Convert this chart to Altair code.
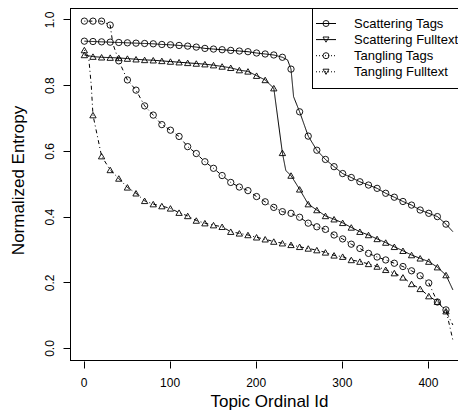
import altair as alt
import pandas as pd

SERIES = ["Scattering Tags", "Scattering Fulltext", "Tangling Tags", "Tangling Fulltext"]

# marker positions (every 10th topic)
MARK_X = [1, 11, 21, 31, 41, 51, 61, 71, 81, 91, 101, 111, 121, 131, 141, 151, 161,
          171, 181, 191, 201, 211, 221, 231, 241, 251, 261, 271, 281, 291, 301, 311,
          321, 331, 341, 351, 361, 371, 381, 391, 401, 411, 421]

ST_Y = [0.934, 0.933, 0.932, 0.931, 0.930, 0.929, 0.928, 0.927, 0.926, 0.924, 0.923,
        0.921, 0.919, 0.916, 0.912, 0.910, 0.908, 0.906, 0.904, 0.902, 0.898, 0.895,
        0.892, 0.885, 0.849, 0.719, 0.645, 0.602, 0.574, 0.552, 0.531, 0.519, 0.506,
        0.496, 0.486, 0.471, 0.459, 0.446, 0.435, 0.420, 0.410, 0.400, 0.377]
SF_Y = [0.892, 0.887, 0.885, 0.884, 0.883, 0.881, 0.879, 0.877, 0.876, 0.874, 0.872,
        0.870, 0.868, 0.866, 0.864, 0.861, 0.857, 0.853, 0.846, 0.842, 0.829, 0.816,
        0.791, 0.594, 0.525, 0.483, 0.438, 0.420, 0.402, 0.392, 0.381, 0.367, 0.354,
        0.344, 0.332, 0.321, 0.308, 0.296, 0.283, 0.273, 0.263, 0.246, 0.222]
TT_Y = [0.995, 0.995, 0.995, 0.983, 0.874, 0.816, 0.785, 0.737, 0.709, 0.680, 0.663,
        0.644, 0.613, 0.592, 0.567, 0.547, 0.525, 0.504, 0.490, 0.479, 0.461, 0.445,
        0.428, 0.415, 0.410, 0.398, 0.380, 0.369, 0.361, 0.344, 0.332, 0.316, 0.303,
        0.288, 0.277, 0.268, 0.258, 0.248, 0.235, 0.220, 0.198, 0.140, 0.116]
TF_Y = [0.907, 0.709, 0.584, 0.542, 0.516, 0.489, 0.471, 0.448, 0.438, 0.432, 0.425,
        0.412, 0.402, 0.388, 0.380, 0.374, 0.369, 0.354, 0.349, 0.344, 0.337, 0.331,
        0.324, 0.319, 0.314, 0.308, 0.303, 0.298, 0.291, 0.282, 0.278, 0.268, 0.263,
        0.256, 0.248, 0.238, 0.228, 0.215, 0.195, 0.180, 0.158, 0.141, 0.112]

# extra line vertices between markers (steep parts, line ends)
ST_EX_X = [237, 244, 429]
ST_EX_Y = [0.877, 0.765, 0.354]
SF_EX_X = [235, 429]
SF_EX_Y = [0.540, 0.177]
TT_EX_X = [34, 38, 429]
TT_EX_Y = [0.927, 0.897, 0.024]
TF_EX_X = [6, 9, 429]
TF_EX_Y = [0.885, 0.800, 0.070]

X_TICKS = [0, 100, 200, 300, 400]
Y_TICKS = [0.0, 0.2, 0.4, 0.6, 0.8, 1.0]

marks = []
lines = []
for name, ys, exx, exy in [
    (SERIES[0], ST_Y, ST_EX_X, ST_EX_Y),
    (SERIES[1], SF_Y, SF_EX_X, SF_EX_Y),
    (SERIES[2], TT_Y, TT_EX_X, TT_EX_Y),
    (SERIES[3], TF_Y, TF_EX_X, TF_EX_Y),
]:
    for x, y in zip(MARK_X, ys):
        marks.append({"series": name, "x": x, "y": y})
        lines.append({"series": name, "x": x, "y": y})
    for x, y in zip(exx, exy):
        lines.append({"series": name, "x": x, "y": y})

mark_df = pd.DataFrame(marks)
line_df = pd.DataFrame(lines).sort_values(["series", "x"])

FONT = "Liberation Sans"
W, H = 388, 353

xscale = alt.Scale(domain=[-15.68, 434.95], nice=False, zero=False)
yscale = alt.Scale(domain=[-0.0396, 1.035], nice=False, zero=False)

xaxis = alt.Axis(values=X_TICKS, title="Topic Ordinal Id", tickSize=7, labelFontSize=12,
                 labelBaseline="alphabetic", labelPadding=18.5, labelFlush=False,
                 domain=False,
                 titleFontSize=17, titleBaseline="alphabetic", titleY=45,
                 titleX=199, titleAnchor="middle", titleAlign="center")
yaxis = alt.Axis(values=Y_TICKS, title="Normalized Entropy", format=".1f", tickSize=7,
                 labelFontSize=12, labelAngle=270, labelAlign="center",
                 labelBaseline="alphabetic", labelPadding=10, labelFlush=False,
                 domain=False,
                 titleFontSize=17, titleAngle=270, titleBaseline="alphabetic",
                 titleX=-47, titleY=172, titleAlign="center")

line_layer = alt.Chart(line_df).mark_line(color="black", strokeWidth=1).encode(
    x=alt.X("x:Q", scale=xscale, axis=xaxis),
    y=alt.Y("y:Q", scale=yscale, axis=yaxis),
    strokeDash=alt.StrokeDash("series:N", scale=alt.Scale(
        domain=SERIES, range=[[1, 0], [1, 0], [1, 3, 4, 3], [1, 3, 4, 3]]), legend=None),
    order="x:Q",
)

point_layer = alt.Chart(mark_df).mark_point(filled=False, color="black", strokeWidth=0.9,
                                            size=40, opacity=1).encode(
    x=alt.X("x:Q", scale=xscale),
    y=alt.Y("y:Q", scale=yscale),
    shape=alt.Shape("series:N", scale=alt.Scale(
        domain=SERIES, range=["circle", "triangle-up", "circle", "triangle-up"]), legend=None),
)

one = pd.DataFrame({"k": [0]})
frame = [
    alt.Chart(one).mark_rule(color="black", strokeWidth=1).encode(
        x=alt.value(0), x2=alt.value(W), y=alt.value(0.5)),
    alt.Chart(one).mark_rule(color="black", strokeWidth=1).encode(
        x=alt.value(0.5), y=alt.value(0), y2=alt.value(H)),
    alt.Chart(one).mark_rule(color="black", strokeWidth=1).encode(
        x=alt.value(0), x2=alt.value(W), y=alt.value(H - 0.5)),
]

legend_box = [
    alt.Chart(one).mark_rect(fill="white", strokeWidth=0).encode(
        x=alt.value(242.5), x2=alt.value(W), y=alt.value(1), y2=alt.value(80.5)),
    alt.Chart(one).mark_rule(color="black", strokeWidth=1).encode(
        x=alt.value(242.5), y=alt.value(0), y2=alt.value(81)),
    alt.Chart(one).mark_rule(color="black", strokeWidth=1).encode(
        x=alt.value(242.5), x2=alt.value(W), y=alt.value(80.5)),
]

legend_layers = []
leg_shapes = ["circle", "triangle-down", "circle", "triangle-down"]
leg_dash = [[1, 0], [1, 0], [1, 2], [1, 2]]
for i, name in enumerate(SERIES):
    yy = 15.5 + 16.1 * i
    d = pd.DataFrame({"series": [name]})
    legend_layers.append(alt.Chart(d).mark_rule(color="black", strokeWidth=1,
                                                strokeDash=leg_dash[i]).encode(
        x=alt.value(246), x2=alt.value(266), y=alt.value(yy)))
    legend_layers.append(alt.Chart(d).mark_point(filled=False, color="black", strokeWidth=0.9,
                                                 size=36, opacity=1, shape=leg_shapes[i]).encode(
        x=alt.value(256), y=alt.value(yy)))
    legend_layers.append(alt.Chart(d).mark_text(align="left", baseline="middle", font=FONT,
                                                fontSize=13, color="black").encode(
        x=alt.value(284), y=alt.value(yy), text="series:N"))

chart = alt.layer(line_layer, point_layer, *frame, *legend_box, *legend_layers).properties(
    width=W, height=H,
    autosize=alt.AutoSizeParams(type="none"),
    padding={"left": 62, "top": 0, "right": 0, "bottom": 49},
).configure_view(stroke=None).configure_axis(
    grid=False, tickColor="black", tickWidth=1,
    labelColor="black", titleColor="black", labelFont=FONT, titleFont=FONT,
    titleFontWeight="normal",
)

chart.save("out.html", embed_options={"renderer": "svg", "actions": False})
